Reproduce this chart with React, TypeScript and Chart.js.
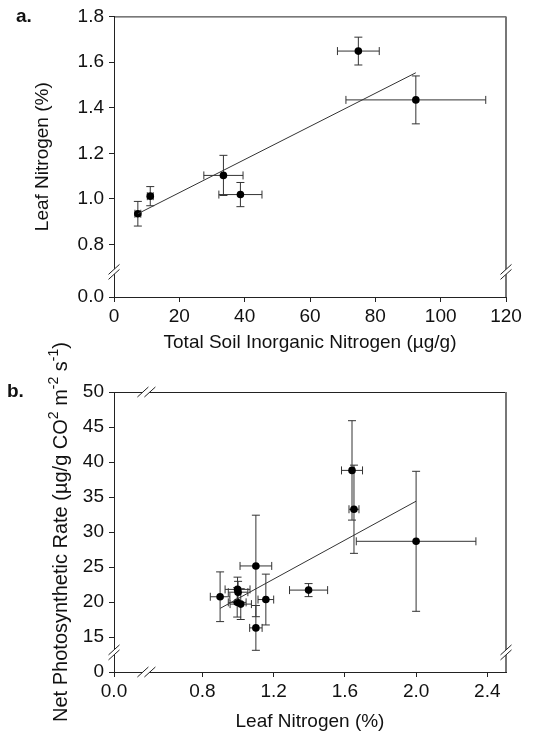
import { useEffect, useRef } from 'react';
import { Chart, registerables } from 'chart.js';

Chart.register(...registerables);

const FONT = "'Liberation Sans', Arial, Helvetica, sans-serif";
const INK = '#111';

// ---- Panel a: total soil inorganic N vs leaf N (mean ± SE) ----
const soilN = [7.3, 11.1, 33.5, 38.7, 74.8, 92.4];
const soilNErr = [0.9, 0.9, 6.0, 6.6, 6.4, 21.4];
const leafNA = [0.935, 1.012, 1.103, 1.019, 1.648, 1.434];
const leafNAErr = [0.054, 0.042, 0.088, 0.053, 0.061, 0.105];
const fitAX = [7.3, 92.4];
const fitAY = [0.935, 1.553];
const xTicksA = [0, 20, 40, 60, 80, 100, 120];
const yTicksA = [0.0, 0.8, 1.0, 1.2, 1.4, 1.6, 1.8];

// ---- Panel b: leaf N vs net photosynthetic rate (mean ± SE) ----
const leafNB = [0.899, 0.997, 1.0, 0.995, 1.015, 1.1, 1.1, 1.156, 1.396, 1.64, 1.651, 2.0];
const leafNBErr = [0.055, 0.07, 0.055, 0.05, 0.06, 0.089, 0.035, 0.044, 0.107, 0.059, 0.028, 0.336];
const photoRate = [20.75, 21.8, 21.4, 19.95, 19.7, 25.15, 16.3, 20.35, 21.7, 38.8, 33.25, 28.67];
const photoRateErr = [3.55, 1.75, 1.55, 2.1, 2.2, 7.25, 3.2, 3.63, 0.93, 7.1, 6.3, 10.0];
const fitBX = [0.9, 2.0];
const fitBY = [19.1, 34.4];
const xTicksB = [0.0, 0.8, 1.2, 1.6, 2.0, 2.4];
const yTicksB = [0, 15, 20, 25, 30, 35, 40, 45, 50];

// Broken axes: the first tick label sits at the floor value after the break.
const A_Y_FLOOR = 0.57;
const A_Y_BREAK = 0.68;
const B_X_FLOOR = 0.303;
const B_X_MAX = 2.505;
const B_X_BREAK = 0.485;
const B_Y_FLOOR = 10;
const B_Y_BREAK = 12.8;

type Seg = [string, boolean];
const yTitleB: Seg[] = [
  ['Net Photosynthetic Rate (\u00b5g/g CO', false],
  ['2', true],
  [' m', false],
  ['-2', true],
  [' s', false],
  ['-1', true],
  [')', false],
];

function tickValues(labels: number[], floor: number | null) {
  return labels.map((v, i) => ({ value: i === 0 && floor !== null ? floor : v }));
}

function tickLabel(labels: number[], floor: number | null, digits: number) {
  return (value: number) => {
    if (floor !== null && Math.abs(value - floor) < 1e-9) return labels[0].toFixed(digits);
    return value.toFixed(digits);
  };
}

function errorBars(xs: number[], ys: number[], xErr: number[], yErr: number[]) {
  return {
    id: 'errorBars',
    beforeDatasetsDraw(chart: any) {
      const { ctx, scales } = chart;
      const sx = scales.x;
      const sy = scales.y;
      const cap = 4;
      ctx.save();
      ctx.strokeStyle = '#333';
      ctx.lineWidth = 1;
      xs.forEach((xv, i) => {
        const px = sx.getPixelForValue(xv);
        const py = sy.getPixelForValue(ys[i]);
        const x0 = sx.getPixelForValue(xv - xErr[i]);
        const x1 = sx.getPixelForValue(xv + xErr[i]);
        const y0 = sy.getPixelForValue(ys[i] - yErr[i]);
        const y1 = sy.getPixelForValue(ys[i] + yErr[i]);
        ctx.beginPath();
        ctx.moveTo(x0, py);
        ctx.lineTo(x1, py);
        ctx.moveTo(x0, py - cap);
        ctx.lineTo(x0, py + cap);
        ctx.moveTo(x1, py - cap);
        ctx.lineTo(x1, py + cap);
        ctx.moveTo(px, y0);
        ctx.lineTo(px, y1);
        ctx.moveTo(px - cap, y0);
        ctx.lineTo(px + cap, y0);
        ctx.moveTo(px - cap, y1);
        ctx.lineTo(px + cap, y1);
        ctx.stroke();
      });
      ctx.restore();
    },
  };
}

type FrameOpts = {
  tag: string;
  tagX: number;
  tagY: number;
  yBreak?: number;
  xBreak?: number;
  yTitle?: { segs: Seg[]; x: number; size: number };
};

function frame(opts: FrameOpts) {
  return {
    id: 'frame',
    afterDraw(chart: any) {
      const { ctx, chartArea, scales } = chart;
      const { left, right, top, bottom } = chartArea;
      ctx.save();
      // top and right edges of the box
      ctx.strokeStyle = '#222';
      ctx.lineWidth = 1;
      ctx.beginPath();
      ctx.moveTo(left, top + 0.5);
      ctx.lineTo(right, top + 0.5);
      ctx.stroke();
      ctx.strokeStyle = '#777';
      ctx.lineWidth = 2;
      ctx.beginPath();
      ctx.moveTo(right, top);
      ctx.lineTo(right, bottom);
      ctx.stroke();

      // axis break marks "//"
      const vBreak = (ax: number, py: number) => {
        const dx = 5.5, dy = 5, g = 2.5;
        ctx.fillStyle = '#fff';
        ctx.beginPath();
        ctx.moveTo(ax - dx, py - g + dy);
        ctx.lineTo(ax + dx, py - g - dy);
        ctx.lineTo(ax + dx, py + g - dy);
        ctx.lineTo(ax - dx, py + g + dy);
        ctx.closePath();
        ctx.fill();
        ctx.strokeStyle = '#222';
        ctx.lineWidth = 1;
        ctx.beginPath();
        ctx.moveTo(ax - dx, py - g + dy);
        ctx.lineTo(ax + dx, py - g - dy);
        ctx.moveTo(ax - dx, py + g + dy);
        ctx.lineTo(ax + dx, py + g - dy);
        ctx.stroke();
      };
      const hBreak = (px: number, ay: number) => {
        const dx = 5.5, dy = 5, g = 3.5;
        ctx.fillStyle = '#fff';
        ctx.beginPath();
        ctx.moveTo(px - g - dx, ay + dy);
        ctx.lineTo(px - g + dx, ay - dy);
        ctx.lineTo(px + g + dx, ay - dy);
        ctx.lineTo(px + g - dx, ay + dy);
        ctx.closePath();
        ctx.fill();
        ctx.strokeStyle = '#222';
        ctx.lineWidth = 1;
        ctx.beginPath();
        ctx.moveTo(px - g - dx, ay + dy);
        ctx.lineTo(px - g + dx, ay - dy);
        ctx.moveTo(px + g - dx, ay + dy);
        ctx.lineTo(px + g + dx, ay - dy);
        ctx.stroke();
      };
      if (opts.yBreak !== undefined) {
        const py = scales.y.getPixelForValue(opts.yBreak);
        vBreak(left, py);
        vBreak(right, py);
      }
      if (opts.xBreak !== undefined) {
        const px = scales.x.getPixelForValue(opts.xBreak);
        hBreak(px, bottom);
        hBreak(px, top);
      }

      // panel tag
      ctx.fillStyle = INK;
      ctx.font = `bold 19px ${FONT}`;
      ctx.textAlign = 'left';
      ctx.textBaseline = 'middle';
      ctx.fillText(opts.tag, opts.tagX, opts.tagY);

      // rotated y title with superscripts
      if (opts.yTitle) {
        const { segs, x, size } = opts.yTitle;
        const main = `${size}px ${FONT}`;
        const sup = `${Math.round(size * 0.7)}px ${FONT}`;
        let total = 0;
        const widths = segs.map(([t, s]) => {
          ctx.font = s ? sup : main;
          const w = ctx.measureText(t).width;
          total += w;
          return w;
        });
        ctx.translate(x, (top + bottom) / 2);
        ctx.rotate(-Math.PI / 2);
        ctx.textAlign = 'left';
        ctx.textBaseline = 'alphabetic';
        let cx = -total / 2;
        const base = size * 0.36;
        segs.forEach(([t, s], i) => {
          ctx.font = s ? sup : main;
          ctx.fillText(t, cx, s ? base - size * 0.42 : base);
          cx += widths[i];
        });
      }
      ctx.restore();
    },
  };
}

type PanelCfg = {
  xs: number[];
  ys: number[];
  xErr: number[];
  yErr: number[];
  fitX: number[];
  fitY: number[];
  xTicks: number[];
  yTicks: number[];
  xFloor: number | null;
  yFloor: number | null;
  xMax: number;
  yMax: number;
  xDigits: number;
  yDigits: number;
  xTitle: string;
  xTitlePad: number;
  yTitle: string | null;
  yTitlePad: number;
  axisWidth: number;
  axisHeight: number;
  padTop: number;
  padRight: number;
  frameOpts: FrameOpts;
};

function buildChart(canvas: HTMLCanvasElement, c: PanelCfg) {
  const points = c.xs.map((x, i) => ({ x, y: c.ys[i] }));
  const fit = c.fitX.map((x, i) => ({ x, y: c.fitY[i] }));
  const tickFont = { family: FONT, size: 19 };
  const titleFont = { family: FONT, size: 19 };
  const grid = {
    display: true,
    drawOnChartArea: false,
    drawTicks: true,
    tickLength: 5,
    color: '#222',
  };
  return new Chart(canvas, {
    type: 'scatter',
    data: {
      datasets: [
        {
          data: fit,
          showLine: true,
          borderColor: '#333',
          borderWidth: 1,
          pointRadius: 0,
          fill: false,
        },
        {
          data: points,
          backgroundColor: '#000',
          borderColor: '#000',
          borderWidth: 0,
          pointRadius: 3.8,
        },
      ],
    },
    options: {
      responsive: false,
      animation: false,
      events: [],
      layout: { padding: { top: c.padTop, right: c.padRight, left: 0, bottom: 0 } },
      plugins: { legend: { display: false }, tooltip: { enabled: false } },
      scales: {
        x: {
          type: 'linear',
          min: c.xFloor ?? c.xTicks[0],
          max: c.xMax,
          afterBuildTicks: (axis: any) => {
            axis.ticks = tickValues(c.xTicks, c.xFloor);
          },
          afterFit: (axis: any) => {
            axis.height = c.axisHeight;
          },
          ticks: {
            autoSkip: false,
            maxRotation: 0,
            padding: 3,
            color: INK,
            font: tickFont,
            callback: tickLabel(c.xTicks, c.xFloor, c.xDigits),
          },
          grid,
          border: { display: true, color: '#222', width: 1 },
          title: {
            display: true,
            text: c.xTitle,
            color: INK,
            font: titleFont,
            padding: { top: 0, bottom: c.xTitlePad },
          },
        },
        y: {
          type: 'linear',
          min: c.yFloor ?? c.yTicks[0],
          max: c.yMax,
          afterBuildTicks: (axis: any) => {
            axis.ticks = tickValues(c.yTicks, c.yFloor);
          },
          afterFit: (axis: any) => {
            axis.width = c.axisWidth;
          },
          ticks: {
            autoSkip: false,
            padding: 5,
            color: INK,
            font: tickFont,
            callback: tickLabel(c.yTicks, c.yFloor, c.yDigits),
          },
          grid,
          border: { display: true, color: '#222', width: 1 },
          title: {
            display: c.yTitle !== null,
            text: c.yTitle ?? '',
            color: INK,
            font: titleFont,
            padding: { top: c.yTitlePad, bottom: 0 },
          },
        },
      },
    },
    plugins: [errorBars(c.xs, c.ys, c.xErr, c.yErr), frame(c.frameOpts)],
  } as any);
}

export default function App() {
  const refA = useRef<HTMLCanvasElement>(null);
  const refB = useRef<HTMLCanvasElement>(null);

  useEffect(() => {
    const a = buildChart(refA.current!, {
      xs: soilN,
      ys: leafNA,
      xErr: soilNErr,
      yErr: leafNAErr,
      fitX: fitAX,
      fitY: fitAY,
      xTicks: xTicksA,
      yTicks: yTicksA,
      xFloor: null,
      yFloor: A_Y_FLOOR,
      xMax: 120,
      yMax: 1.8,
      xDigits: 0,
      yDigits: 1,
      xTitle: 'Total Soil Inorganic Nitrogen (\u00b5g/g)',
      xTitlePad: 7.6,
      yTitle: 'Leaf Nitrogen (%)',
      yTitlePad: 31.6,
      axisWidth: 114,
      axisHeight: 65,
      padTop: 16,
      padRight: 29,
      frameOpts: { tag: 'a.', tagX: 16, tagY: 17, yBreak: A_Y_BREAK },
    });
    const b = buildChart(refB.current!, {
      xs: leafNB,
      ys: photoRate,
      xErr: leafNBErr,
      yErr: photoRateErr,
      fitX: fitBX,
      fitY: fitBY,
      xTicks: xTicksB,
      yTicks: yTicksB,
      xFloor: B_X_FLOOR,
      yFloor: B_Y_FLOOR,
      xMax: B_X_MAX,
      yMax: 50,
      xDigits: 1,
      yDigits: 0,
      xTitle: 'Leaf Nitrogen (%)',
      xTitlePad: 4.6,
      yTitle: null,
      yTitlePad: 0,
      axisWidth: 114,
      axisHeight: 66,
      padTop: 72,
      padRight: 29,
      frameOpts: {
        tag: 'b.',
        tagX: 7,
        tagY: 72,
        yBreak: B_Y_BREAK,
        xBreak: B_X_BREAK,
        yTitle: { segs: yTitleB, x: 59.5, size: 20 },
      },
    });
    return () => {
      a.destroy();
      b.destroy();
    };
  }, []);

  return (
    <div style={{ position: 'absolute', left: 0, top: 0, width: 535, height: 738, background: '#fff' }}>
      <canvas ref={refA} width={535} height={362} style={{ position: 'absolute', left: 0, top: 0 }} />
      <canvas ref={refB} width={535} height={418} style={{ position: 'absolute', left: 0, top: 320 }} />
    </div>
  );
}
